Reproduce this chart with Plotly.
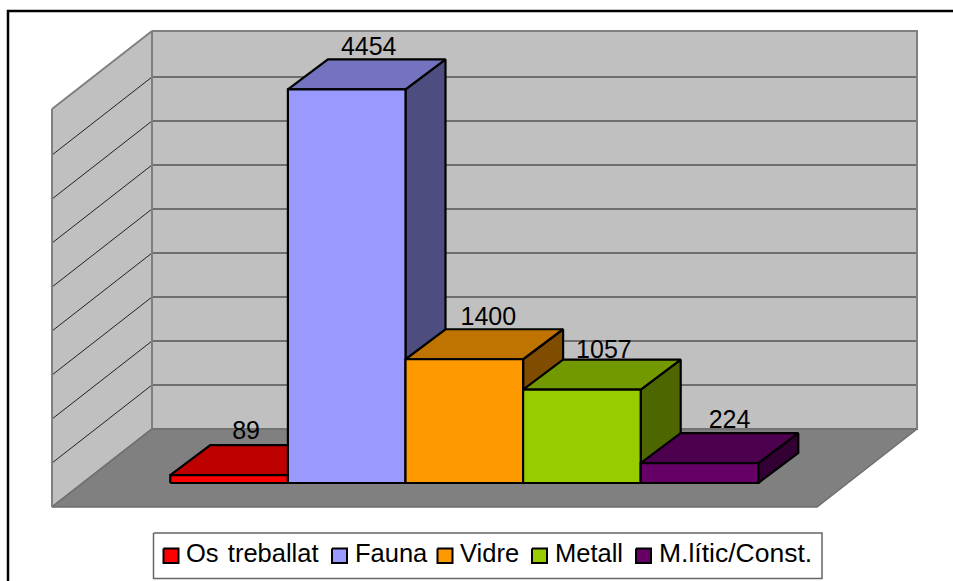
import plotly.graph_objects as go

# ---- data ----
categories = ["Os\u200a treballat", "Fauna", "Vidre", "Metall", "M.lític/Const."]
values = [89, 4454, 1400, 1057, 224]
grid_values = [500, 1000, 1500, 2000, 2500, 3000, 3500, 4000]

# ---- colours ----
front_colors = ["#FF0000", "#9999FF", "#FF9900", "#99CC00", "#660066"]
top_colors = ["#BF0000", "#7373BF", "#BF7300", "#739900", "#4D004D"]
side_colors = ["#800000", "#4D4D80", "#804D00", "#4D6600", "#330033"]

# ---- projection (pixel space of the 953x581 canvas) ----
W, H = 953, 581
FLOOR_FRONT_Y, FLOOR_BACK_Y = 507, 429
WALL_L, WALL_R = 152, 917
WALL_DX, WALL_DY = 100, 78
WALL_TOP = 31
GRID_SCALE = 44.0 / 500
BAR_SCALE = 393.7 / 4454
BAR_BASE_Y = 483
BAR_X0, BAR_W = 170.3, 117.6
BAR_DX, BAR_DY = 40, 30
LABEL_NUDGE = [(-3, -12), (2, -11), (4, -11), (2, -8), (10, -11.5)]
FONT = "Liberation Sans, Arial, sans-serif"

fig = go.Figure()


def poly(xs, ys, fill, line="#000000", width=2.2):
    fig.add_trace(go.Scatter(
        x=xs + xs[:1], y=ys + ys[:1], mode="lines", fill="toself", fillcolor=fill,
        line=dict(color=line, width=width), hoverinfo="skip", showlegend=False))


def seg(xs, ys, color, width):
    fig.add_trace(go.Scatter(x=xs, y=ys, mode="lines", line=dict(color=color, width=width),
                             hoverinfo="skip", showlegend=False))


def text(x, y, s, pos="middle center", size=25):
    fig.add_trace(go.Scatter(x=[x], y=[y], mode="text", text=[s], textposition=pos,
                             textfont=dict(family=FONT, size=size, color="#000000"),
                             hoverinfo="skip", showlegend=False, cliponaxis=False))


# walls and floor
poly([WALL_L, WALL_R, WALL_R, WALL_L], [WALL_TOP, WALL_TOP, FLOOR_BACK_Y, FLOOR_BACK_Y], "#C0C0C0", "#808080", 2)
poly([WALL_L - WALL_DX, WALL_L, WALL_L, WALL_L - WALL_DX],
     [WALL_TOP + WALL_DY, WALL_TOP, FLOOR_BACK_Y, FLOOR_FRONT_Y], "#C0C0C0", "#808080", 2)
poly([WALL_L - WALL_DX, WALL_L, WALL_R, WALL_R - WALL_DX],
     [FLOOR_FRONT_Y, FLOOR_BACK_Y, FLOOR_BACK_Y, FLOOR_FRONT_Y], "#808080", "#6E6E6E", 1.5)

# gridlines
for g in grid_values:
    y = FLOOR_BACK_Y - g * GRID_SCALE
    seg([WALL_L, WALL_R], [y, y], "#555555", 1.5)
    seg([WALL_L - WALL_DX, WALL_L], [y + WALL_DY, y], "#222222", 1)

# re-stroke wall edges over grid ends
seg([WALL_L, WALL_L], [WALL_TOP, FLOOR_BACK_Y], "#808080", 2)
seg([WALL_R, WALL_R], [WALL_TOP, FLOOR_BACK_Y], "#808080", 2)
seg([WALL_L - WALL_DX, WALL_L - WALL_DX], [WALL_TOP + WALL_DY, FLOOR_FRONT_Y], "#808080", 2)

# bars
for i, v in enumerate(values):
    x0 = BAR_X0 + i * BAR_W
    x1 = x0 + BAR_W
    yb = BAR_BASE_Y
    yt = yb - v * BAR_SCALE
    text(x0 + BAR_W / 2 + BAR_DX / 2 + LABEL_NUDGE[i][0], yt - BAR_DY + LABEL_NUDGE[i][1], str(v))
    poly([x1, x1 + BAR_DX, x1 + BAR_DX, x1], [yb, yb - BAR_DY, yt - BAR_DY, yt], side_colors[i])
    poly([x0, x0 + BAR_DX, x1 + BAR_DX, x1], [yt, yt - BAR_DY, yt - BAR_DY, yt], top_colors[i])
    poly([x0, x1, x1, x0], [yb, yb, yt, yt], front_colors[i])

# legend box
LEG_BOX = (153.5, 533, 822, 578.5)
poly([LEG_BOX[0], LEG_BOX[2], LEG_BOX[2], LEG_BOX[0]], [LEG_BOX[1], LEG_BOX[1], LEG_BOX[3], LEG_BOX[3]],
     "#FFFFFF", "#666666", 1.5)
LEG_SWATCH_X = [163.5, 332, 437.5, 532, 636]
LEG_TEXT_X = [186, 355, 460, 555, 659]
LEG_TEXT_SIZE = [25.5, 25.5, 25.5, 25.5, 26.5]
for i, c in enumerate(categories):
    sx = LEG_SWATCH_X[i]
    poly([sx, sx + 15, sx + 15, sx], [548.5, 548.5, 563, 563], front_colors[i], "#000000", 2)
    text(LEG_TEXT_X[i], 555.5, c, "middle right", LEG_TEXT_SIZE[i])

# outer chart frame (right and bottom edges fall outside the page)
fig.add_shape(type="rect", x0=8, y0=11, x1=W + 20, y1=H + 20, xref="x", yref="y",
              line=dict(color="#000000", width=2.5), layer="above")

fig.update_xaxes(range=[0, W], visible=False, fixedrange=True)
fig.update_yaxes(range=[H, 0], visible=False, fixedrange=True)
fig.update_layout(width=W, height=H, margin=dict(l=0, r=0, t=0, b=0),
                  paper_bgcolor="#FFFFFF", plot_bgcolor="#FFFFFF", showlegend=False)

fig.write_html("out.html", config={"displayModeBar": False},
               post_script="document.body.style.margin='0';document.body.style.overflow='hidden';")
